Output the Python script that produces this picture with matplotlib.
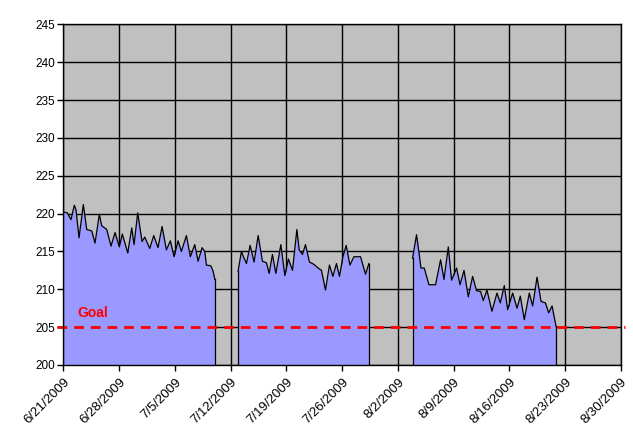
import matplotlib
matplotlib.use("Agg")
import matplotlib.pyplot as plt
import matplotlib.dates as mdates
import pandas as pd

plt.rcParams['font.family'] = ['Liberation Sans', 'DejaVu Sans']

start_date = "2009-06-21"
# Segment readings: day offsets from 6/21/2009 and weight values
seg1_days = [0.0, 0.49, 0.95, 1.37, 1.58, 1.96, 2.50, 2.93, 3.56, 3.97, 4.51, 4.81, 5.44, 5.98,
             6.48, 7.02, 7.40, 8.08, 8.58, 8.87, 9.33, 9.87, 10.21, 10.84, 11.34, 11.88, 12.39,
             12.93, 13.43, 13.89, 14.40, 14.81, 15.44, 15.94, 16.49, 16.91, 17.41, 17.75, 17.95,
             18.51, 18.79, 19.01]
seg1_vals = [220.2, 220.1, 219.2, 221.1, 220.5, 216.8, 221.2, 217.9, 217.7, 216.1, 219.9, 218.4,
             217.9, 215.7, 217.5, 215.6, 217.3, 214.8, 218.1, 215.9, 220.1, 216.3, 216.9, 215.4,
             217.1, 215.5, 218.3, 215.2, 216.4, 214.3, 216.4, 215.0, 217.1, 214.3, 215.9, 213.7,
             215.5, 215.0, 213.2, 213.1, 212.4, 211.3]

seg2_days = [21.93, 22.35, 22.60, 22.98, 23.44, 23.94, 24.45, 24.99, 25.49, 25.83, 26.24, 26.67,
             27.30, 27.80, 28.25, 28.76, 29.31, 29.60, 30.01, 30.39, 30.89, 31.44, 31.98, 32.40,
             32.90, 33.40, 33.83, 34.28, 34.66, 35.09, 35.50, 35.97, 36.47, 37.30, 37.93, 38.35]
seg2_vals = [212.4, 215.0, 214.3, 213.4, 215.8, 213.6, 217.1, 213.7, 213.5, 212.1, 214.6, 212.1,
             215.9, 211.8, 214.0, 212.5, 217.9, 215.2, 214.6, 215.9, 213.6, 213.3, 212.8, 212.5,
             209.9, 213.2, 211.7, 213.4, 211.7, 214.3, 215.8, 213.2, 214.3, 214.3, 212.0, 213.4]

seg3_days = [43.83, 44.33, 44.67, 44.89, 45.30, 45.89, 46.72, 47.35, 47.78, 48.32, 48.73, 49.36,
             49.79, 50.29, 50.83, 51.37, 51.87, 52.38, 52.71, 53.17, 53.80, 54.43, 54.85, 55.35,
             55.77, 56.40, 56.95, 57.36, 57.86, 58.49, 58.91, 59.46, 59.96, 60.51, 60.92, 61.35,
             61.64, 61.85]
seg3_vals = [214.1, 217.2, 214.6, 212.8, 212.8, 210.6, 210.6, 213.9, 211.3, 215.6, 211.2, 212.8,
             210.6, 212.5, 209.0, 211.7, 209.8, 209.7, 208.5, 209.9, 207.1, 209.5, 208.2, 210.5,
             207.3, 209.5, 207.5, 209.1, 206.0, 209.5, 207.8, 211.6, 208.4, 208.2, 206.9, 207.8,
             206.2, 205.1]

goal_value = 205
goal_label = "Goal"
tick_dates = ["2009-06-21", "2009-06-28", "2009-07-05", "2009-07-12", "2009-07-19", "2009-07-26",
              "2009-08-02", "2009-08-09", "2009-08-16", "2009-08-23", "2009-08-30"]
tick_labels = ["6/21/2009", "6/28/2009", "7/5/2009", "7/12/2009", "7/19/2009", "7/26/2009",
               "8/2/2009", "8/9/2009", "8/16/2009", "8/23/2009", "8/30/2009"]
y_ticks = [200, 205, 210, 215, 220, 225, 230, 235, 240, 245]

fig = plt.figure(figsize=(6.33, 4.36), dpi=100)
ax = fig.add_axes([63.4 / 633, 1 - 365 / 436, (621 - 63.4) / 633, (365 - 24.3) / 436])
ax.set_facecolor('#C0C0C0')

t0 = pd.Timestamp(start_date)
for days, vals in [(seg1_days, seg1_vals), (seg2_days, seg2_vals), (seg3_days, seg3_vals)]:
    x = [mdates.date2num(t0 + pd.Timedelta(days=d)) for d in days]
    ax.fill_between(x, vals, 200, color='#9999FF', linewidth=0, zorder=2)
    ax.plot(x, vals, color='black', linewidth=0.9, zorder=3)
    ax.plot([x[0], x[0]], [200, vals[0]], color='black', linewidth=0.9, zorder=3)
    ax.plot([x[-1], x[-1]], [200, vals[-1]], color='black', linewidth=0.9, zorder=3)

xt = [mdates.date2num(pd.Timestamp(d)) for d in tick_dates]
ax.set_xlim(xt[0], xt[-1])
ax.set_ylim(200, 245)
ax.set_xticks(xt)
ax.set_xticklabels(tick_labels, rotation=45, ha='right', rotation_mode='anchor', fontsize=9.5)
ax.set_yticks(y_ticks)
ax.set_yticklabels([str(v) for v in y_ticks], fontsize=8.5)
ax.grid(True, color='black', linewidth=1.0, zorder=1)
ax.set_axisbelow(True)
ax.tick_params(direction='out', length=4, width=1, colors='black', pad=2)
ax.tick_params(axis='x', pad=4)
for s in ax.spines.values():
    s.set_color('black')
    s.set_linewidth(1.0)
    s.set_zorder(5)

xpad = (xt[-1] - xt[0]) * 0.012
ax.plot([xt[0] - xpad, xt[-1] + xpad * 0.6], [goal_value, goal_value], color='#FF0000',
        linestyle=(0, (3.5, 2.5)), linewidth=2, zorder=4, clip_on=False)
ax.text(xt[0] + 1.8, goal_value + 0.9, goal_label, color='#FF0000', fontsize=10,
        fontweight='bold', ha='left', va='bottom', zorder=4)

fig.savefig('out.png', dpi=100, facecolor='white')
